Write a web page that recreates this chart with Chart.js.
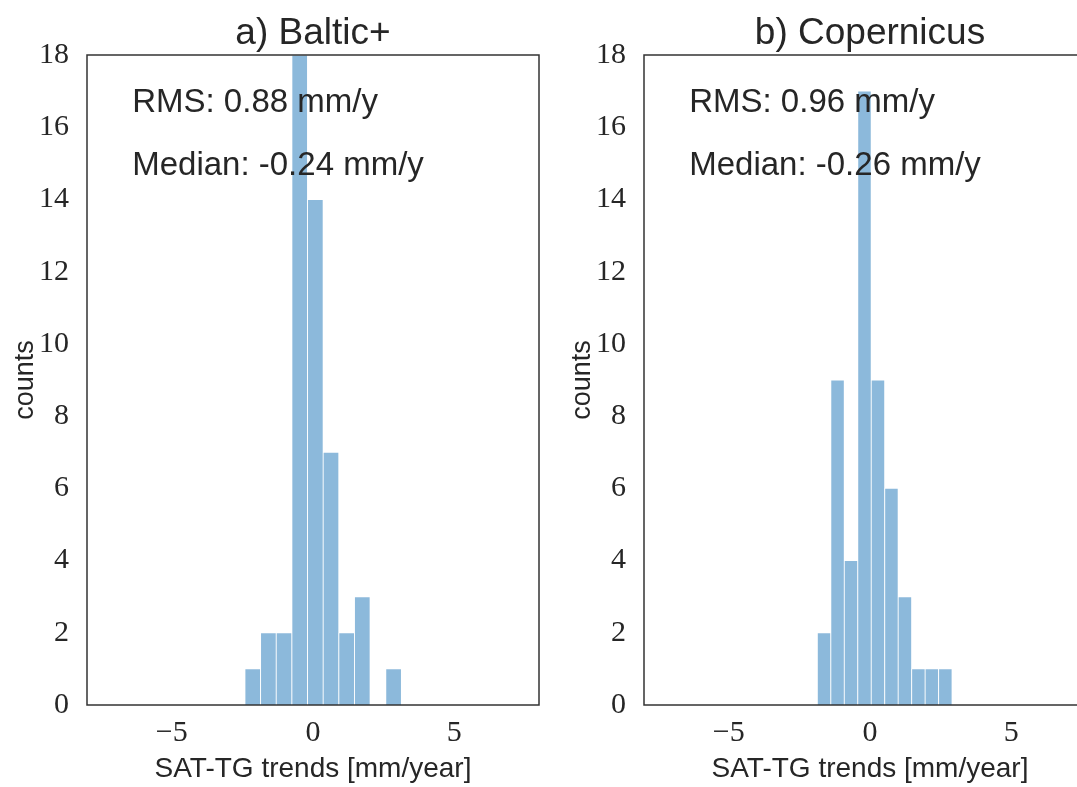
<!DOCTYPE html>
<html>
<head>
<meta charset="utf-8">
<script src="https://cdn.jsdelivr.net/npm/chart.js@4.4.1/dist/chart.umd.min.js"></script>
<style>
  html, body { margin: 0; padding: 0; background: #fff; overflow: hidden; width: 1077px; height: 787px; }
  canvas { position: absolute; top: 0; }
  #left { left: 0; }
  #right { left: 557px; }
</style>
</head>
<body>
<canvas id="left" width="560" height="787"></canvas>
<canvas id="right" width="560" height="787"></canvas>
<script>
// histogram bin centres (mm/year) and counts
const balticCenters = [-2.133, -1.579, -1.025, -0.471, 0.083, 0.637, 1.191, 1.745, 2.299, 2.853];
const balticCounts = [1, 2, 2, 18, 14, 7, 2, 3, 0, 1];
const copernicusCenters = [-1.626, -1.149, -0.672, -0.195, 0.282, 0.759, 1.236, 1.713, 2.190, 2.667];
const copernicusCounts = [2, 9, 4, 17, 9, 6, 3, 1, 1, 1];

const panelTitles = ['a) Baltic+', 'b) Copernicus'];
const rmsValues = [0.88, 0.96];
const medianValues = [-0.24, -0.26];

const xTicks = [-5, 0, 5];
const xRange = [-8, 8];
const yRange = [0, 18];
const yStep = 2;
const xTitle = 'SAT-TG trends [mm/year]';
const yTitle = 'counts';

const sans = '"Liberation Sans", Arial, sans-serif';
const serif = '"Liberation Serif", "DejaVu Serif", serif';
const textColor = '#262626';
const barColor = '#8cb9db';

// titles, stats text and the box around the axes
function panelDecor(i) {
    return {
        id: 'panelDecor' + i,
        afterDatasetsDraw(chart) {
            const { ctx, chartArea: a } = chart;
            ctx.save();
            ctx.strokeStyle = '#333';
            ctx.lineWidth = 1.5;
            ctx.strokeRect(a.left, a.top, a.right - a.left, a.bottom - a.top);
            ctx.restore();
        },
        afterDraw(chart) {
            const { ctx, chartArea: a } = chart;
            const w = a.right - a.left, h = a.bottom - a.top;
            ctx.save();
            ctx.fillStyle = textColor;
            ctx.textBaseline = 'alphabetic';

            ctx.font = '37px ' + sans;
            ctx.textAlign = 'center';
            ctx.fillText(panelTitles[i], (a.left + a.right) / 2, 44);

            ctx.font = '33px ' + sans;
            ctx.textAlign = 'left';
            const x = a.left + 0.1 * w;
            ctx.fillText('RMS: ' + rmsValues[i].toFixed(2) + ' mm/y', x, a.bottom - 0.912 * h);
            ctx.fillText('Median: ' + medianValues[i].toFixed(2) + ' mm/y', x, a.bottom - 0.815 * h);
            ctx.restore();
        }
    };
}

function makeHist(canvasId, centers, counts, i) {
    const ctx = document.getElementById(canvasId).getContext('2d');
    return new Chart(ctx, {
        type: 'bar',
        data: {
            datasets: [{
                data: centers.map((c, k) => ({ x: c, y: counts[k] })),
                backgroundColor: barColor,
                borderColor: '#ffffff',
                borderWidth: { left: 0.8, right: 0.8, top: 0.8, bottom: 0 },
                borderSkipped: false,
                categoryPercentage: 1,
                barPercentage: 1
            }]
        },
        options: {
            responsive: false,
            animation: false,
            devicePixelRatio: 1,
            layout: { padding: { top: 55, right: 21, bottom: 0, left: 0 } },
            plugins: { legend: { display: false }, tooltip: { enabled: false } },
            scales: {
                x: {
                    type: 'linear',
                    offset: false,
                    min: xRange[0],
                    max: xRange[1],
                    grid: { display: false, drawTicks: false },
                    border: { display: false },
                    afterBuildTicks: s => { s.ticks = xTicks.map(v => ({ value: v })); },
                    afterFit: s => { s.height = 82; },
                    ticks: {
                        font: { family: serif, size: 30 },
                        color: textColor,
                        padding: 10,
                        maxRotation: 0,
                        callback: v => (v < 0 ? '\u2212' + Math.abs(v) : String(v))
                    },
                    title: {
                        display: true,
                        text: xTitle,
                        font: { family: sans, size: 28 },
                        color: textColor,
                        padding: { top: 0, bottom: 1 }
                    }
                },
                y: {
                    min: yRange[0],
                    max: yRange[1],
                    grid: { display: false, drawTicks: false },
                    border: { display: false },
                    afterFit: s => { s.width = 87; },
                    ticks: {
                        stepSize: yStep,
                        font: { family: serif, size: 30 },
                        color: textColor,
                        padding: 18
                    },
                    title: {
                        display: true,
                        text: yTitle,
                        font: { family: sans, size: 27 },
                        color: textColor,
                        padding: { top: 9, bottom: 0 }
                    }
                }
            }
        },
        plugins: [panelDecor(i)]
    });
}

makeHist('left', balticCenters, balticCounts, 0);
makeHist('right', copernicusCenters, copernicusCounts, 1);
</script>
</body>
</html>
